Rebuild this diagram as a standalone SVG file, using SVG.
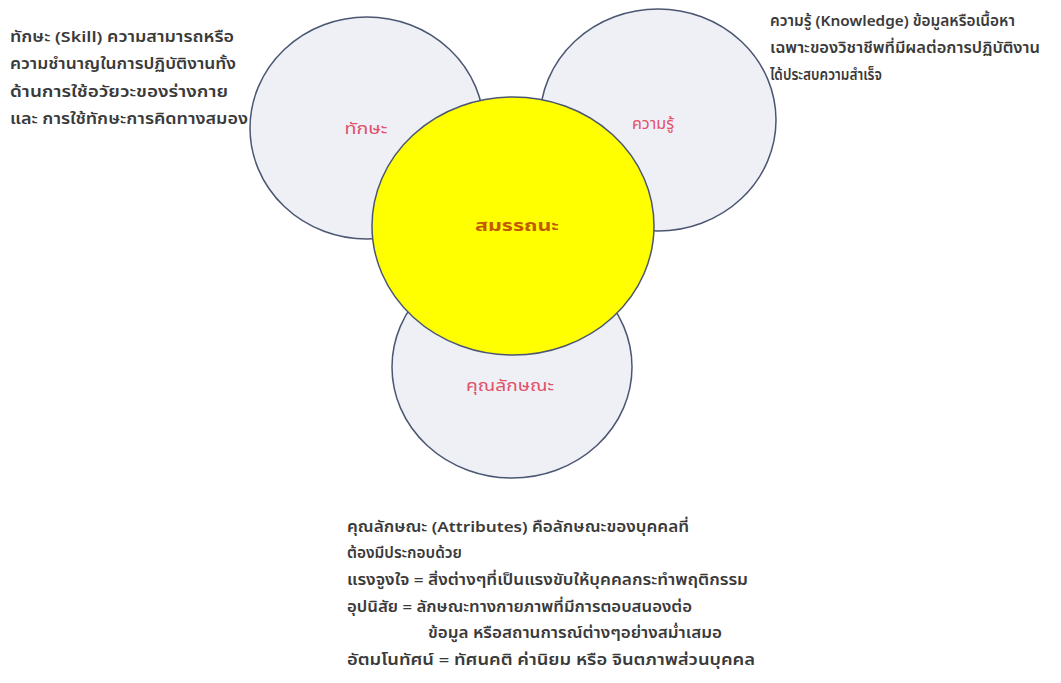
<svg xmlns="http://www.w3.org/2000/svg" width="1061" height="683" viewBox="0 0 1061 683">
<style>
.bg{fill:#ffffff}
.c{fill:#eef0f5;stroke:#4b5672;stroke-width:1.5}
.y{fill:#ffff00;stroke:#4b5672;stroke-width:1.5}
.lbl{font-family:"Noto Sans Thai","Tahoma","DejaVu Sans","Noto Sans",sans-serif;font-size:16px;fill:#e2506a;text-anchor:middle}
.main{font-family:"Noto Sans Thai","Tahoma","DejaVu Sans","Noto Sans",sans-serif;font-size:16px;font-weight:bold;fill:#c45a00;text-anchor:middle}
.t{font-family:"Noto Sans Thai","Tahoma","DejaVu Sans","Noto Sans",sans-serif;font-size:15px;font-weight:600;fill:#3a3a3a}
</style>
<rect class="bg" x="0" y="0" width="1061" height="683"/>
<g id="notes">
<text class="t" x="10" y="42" textLength="224" lengthAdjust="spacingAndGlyphs">ทักษะ (Skill) ความสามารถหรือ</text>
<text class="t" x="10" y="69" textLength="226" lengthAdjust="spacingAndGlyphs">ความชำนาญในการปฏิบัติงานทั้ง</text>
<text class="t" x="10" y="97" textLength="218" lengthAdjust="spacingAndGlyphs">ด้านการใช้อวัยวะของร่างกาย</text>
<text class="t" x="10" y="124" textLength="238" lengthAdjust="spacingAndGlyphs">และ การใช้ทักษะการคิดทางสมอง</text>
<text class="t" x="770" y="26" textLength="245" lengthAdjust="spacingAndGlyphs">ความรู้ (Knowledge) ข้อมูลหรือเนื้อหา</text>
<text class="t" x="770" y="53" textLength="270" lengthAdjust="spacingAndGlyphs">เฉพาะของวิชาชีพที่มีผลต่อการปฏิบัติงาน</text>
<text class="t" x="770" y="80" textLength="112" lengthAdjust="spacingAndGlyphs">ได้ประสบความสำเร็จ</text>
<text class="t" x="347" y="532" textLength="342" lengthAdjust="spacingAndGlyphs">คุณลักษณะ (Attributes) คือลักษณะของบุคคลที่</text>
<text class="t" x="347" y="558" textLength="115" lengthAdjust="spacingAndGlyphs">ต้องมีประกอบด้วย</text>
<text class="t" x="347" y="585" textLength="401" lengthAdjust="spacingAndGlyphs">แรงจูงใจ = สิ่งต่างๆที่เป็นแรงขับให้บุคคลกระทำพฤติกรรม</text>
<text class="t" x="347" y="612" textLength="345" lengthAdjust="spacingAndGlyphs">อุปนิสัย = ลักษณะทางกายภาพที่มีการตอบสนองต่อ</text>
<text class="t" x="428" y="638" textLength="294" lengthAdjust="spacingAndGlyphs">ข้อมูล หรือสถานการณ์ต่างๆอย่างสม่ำเสมอ</text>
<text class="t" x="347" y="665" textLength="408" lengthAdjust="spacingAndGlyphs">อัตมโนทัศน์ = ทัศนคติ ค่านิยม หรือ จินตภาพส่วนบุคคล</text>
</g>
<g id="skill">
<ellipse class="c" cx="367" cy="128" rx="117" ry="111"/>
<text class="lbl" x="366" y="134" textLength="43" lengthAdjust="spacingAndGlyphs">ทักษะ</text>
</g>
<g id="knowledge">
<ellipse class="c" cx="658" cy="120" rx="118" ry="111"/>
<text class="lbl" x="653" y="129" textLength="42" lengthAdjust="spacingAndGlyphs">ความรู้</text>
</g>
<g id="attributes">
<ellipse class="c" cx="512" cy="367" rx="120" ry="111"/>
<text class="lbl" x="510" y="391" textLength="88" lengthAdjust="spacingAndGlyphs">คุณลักษณะ</text>
</g>
<g id="competency">
<ellipse class="y" cx="513" cy="226" rx="141" ry="129"/>
<text class="main" x="517" y="231" textLength="84" lengthAdjust="spacingAndGlyphs">สมรรถนะ</text>
</g>
<g id="connectors"></g>
</svg>
